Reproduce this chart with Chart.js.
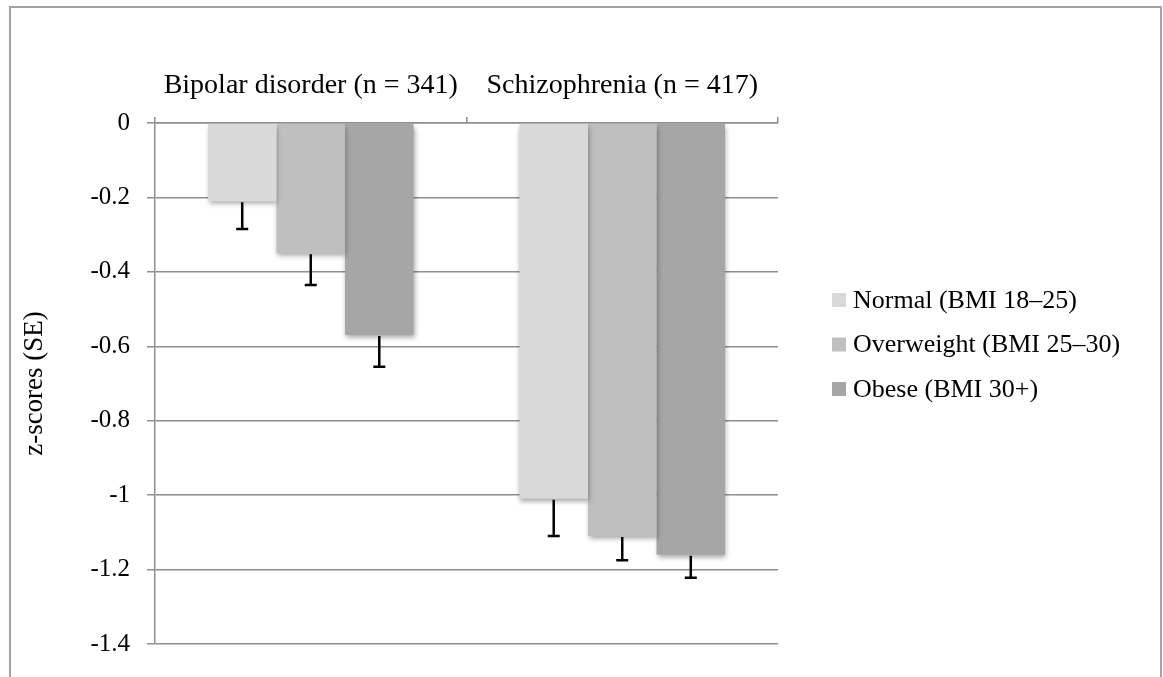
<!DOCTYPE html>
<html>
<head>
<meta charset="utf-8">
<script src="https://cdn.jsdelivr.net/npm/chart.js@4/dist/chart.umd.min.js"></script>
<style>
  html, body { margin: 0; padding: 0; background: #fff; }
  #wrap { position: relative; width: 1163px; height: 677px; }
</style>
</head>
<body>
<div id="wrap"><canvas id="chart" width="1163" height="677"></canvas></div>
<script>
const categories = ['Bipolar disorder (n = 341)', 'Schizophrenia (n = 417)']
const seriesNames = ['Normal (BMI 18–25)', 'Overweight (BMI 25–30)', 'Obese (BMI 30+)']
const normal = [-0.21, -1.01]
const overweight = [-0.35, -1.11]
const obese = [-0.57, -1.16]
const normalSE = [0.075, 0.10]
const overweightSE = [0.085, 0.065]
const obeseSE = [0.085, 0.062]
const colors = ['#d9d9d9', '#bfbfbf', '#a6a6a6']

const FONT = "'Liberation Serif', 'Times New Roman', serif"
const GRID = '#8e8e8e'

// frame around the whole figure
const framePlugin = {
  id: 'frame',
  beforeDraw(chart) {
    const ctx = chart.ctx
    ctx.save()
    ctx.fillStyle = '#fff'
    ctx.fillRect(0, 0, chart.width, chart.height)
    ctx.strokeStyle = '#a3a3a3'
    ctx.lineWidth = 2
    ctx.beginPath()
    ctx.moveTo(10, chart.height + 5)
    ctx.lineTo(10, 7)
    ctx.lineTo(1161, 7)
    ctx.lineTo(1161, chart.height + 5)
    ctx.stroke()
    ctx.restore()
  }
}

// soft drop shadow under the bars
const shadowPlugin = {
  id: 'barShadow',
  beforeDatasetDraw(chart) {
    const ctx = chart.ctx
    ctx.save()
    ctx.shadowColor = 'rgba(0,0,0,0.35)'
    ctx.shadowBlur = 5
    ctx.shadowOffsetX = 1
    ctx.shadowOffsetY = 3
  },
  afterDatasetDraw(chart) {
    chart.ctx.restore()
  }
}

// one-sided (downward) SE bars
const errorBarPlugin = {
  id: 'errorBars',
  afterDatasetsDraw(chart) {
    const ctx = chart.ctx
    const y = chart.scales.y
    ctx.save()
    ctx.strokeStyle = '#000'
    ctx.lineWidth = 2.5
    chart.data.datasets.forEach((ds, i) => {
      const meta = chart.getDatasetMeta(i)
      meta.data.forEach((bar, j) => {
        const top = bar.y + 1
        const end = y.getPixelForValue(ds.data[j] - ds.se[j])
        ctx.beginPath()
        ctx.moveTo(bar.x, top)
        ctx.lineTo(bar.x, end)
        ctx.moveTo(bar.x - 6, end)
        ctx.lineTo(bar.x + 6, end)
        ctx.stroke()
      })
    })
    ctx.restore()
  }
}

// legend drawn at the right, like the original
const sideLegendPlugin = {
  id: 'sideLegend',
  afterDraw(chart) {
    const ctx = chart.ctx
    ctx.save()
    ctx.font = '26px ' + FONT
    ctx.textBaseline = 'middle'
    ctx.fillStyle = '#000'
    chart.data.datasets.forEach((ds, i) => {
      const cy = 300 + i * 44.5
      ctx.fillStyle = ds.backgroundColor
      ctx.fillRect(832, cy - 7, 14, 14)
      ctx.fillStyle = '#000'
      ctx.fillText(ds.label, 853, cy + 1)
    })
    ctx.restore()
  }
}

const data = {
  labels: categories,
  datasets: [
    { label: seriesNames[0], data: normal, se: normalSE, backgroundColor: colors[0] },
    { label: seriesNames[1], data: overweight, se: overweightSE, backgroundColor: colors[1] },
    { label: seriesNames[2], data: obese, se: obeseSE, backgroundColor: colors[2] }
  ]
}

new Chart(document.getElementById('chart'), {
  type: 'bar',
  data,
  plugins: [framePlugin, shadowPlugin, errorBarPlugin, sideLegendPlugin],
  options: {
    responsive: false,
    animation: false,
    devicePixelRatio: 1,
    layout: { padding: { left: 0, top: 40, right: 385, bottom: 33 } },
    datasets: { bar: { categoryPercentage: 0.66, barPercentage: 1.0, borderWidth: 0 } },
    plugins: { legend: { display: false }, tooltip: { enabled: false } },
    scales: {
      x: {
        position: 'top',
        afterFit(scale) { scale.height = 83 },
        grid: { display: true, drawOnChartArea: false, tickLength: 6, color: GRID, lineWidth: 1.5 },
        border: { display: true, color: GRID, width: 1.5 },
        ticks: { color: '#000', padding: 15, font: { family: FONT, size: 28 } }
      },
      y: {
        min: -1.4,
        max: 0,
        afterFit(scale) { scale.width = 155 },
        ticks: {
          stepSize: 0.2,
          color: '#000',
          padding: 17,
          font: { family: FONT, size: 25 },
          callback: v => String(+Number(v).toFixed(1))
        },
        grid: { color: GRID, lineWidth: 1.5, tickLength: 8 },
        border: { display: true, color: GRID, width: 1.5 },
        title: {
          display: true,
          text: 'z-scores (SE)',
          color: '#000',
          font: { family: FONT, size: 27 },
          padding: { top: 19, bottom: 0 }
        }
      }
    }
  }
})
</script>
</body>
</html>
